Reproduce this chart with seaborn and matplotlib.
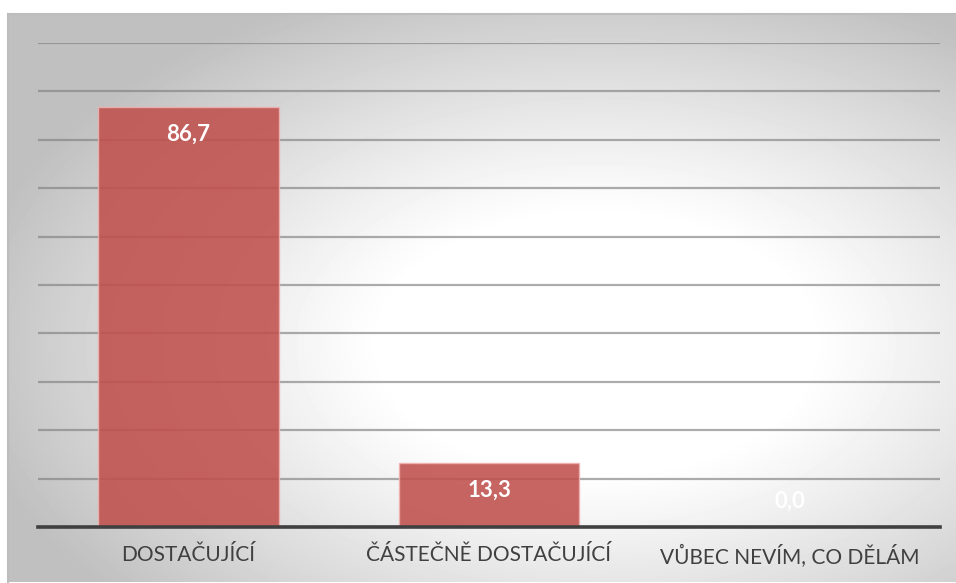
import numpy as np
import pandas as pd
import seaborn as sns
import matplotlib.pyplot as plt


categories = ["DOSTAČUJÍCÍ", "ČÁSTEČNĚ DOSTAČUJÍCÍ", "VŮBEC NEVÍM, CO DĚLÁM"]
values = [86.7, 13.3, 0.0]
y_ticks = list(range(0, 101, 10))


def gradient_background(fig):
    # frame with a radial (elliptic) grey-to-white fill, like the office chart area
    bg = fig.add_axes([8 / 956, 1 / 583, 948 / 956, 568 / 583])
    h, w = 568, 948
    yy, xx = np.mgrid[0:h, 0:w]
    u = (xx - 0.62 * w) / (w / 2)
    v = (yy - 0.58 * h) / (h / 2)
    r = np.sqrt(u ** 2 + v ** 2)
    shade = 1 - 0.25 * np.clip((r - 0.45) / 0.9, 0, 1) ** 1.1
    bg.imshow(shade, cmap="gray", vmin=0, vmax=1, aspect="auto",
              interpolation="bilinear")
    bg.set_xticks([])
    bg.set_yticks([])
    for side in ["right", "bottom"]:
        bg.spines[side].set_visible(False)
    for side in ["top", "left"]:
        bg.spines[side].set_color("#bdbdbd")
        bg.spines[side].set_linewidth(1.5)
    bg.set_zorder(0)


def main():
    sns.set_style("white")
    plt.rcParams["font.family"] = ["Lato", "DejaVu Sans"]

    fig = plt.figure(figsize=(9.56, 5.83), dpi=100, facecolor="white")
    gradient_background(fig)

    ax = fig.add_axes([38 / 956, 56 / 583, 902 / 956, 484 / 583])
    ax.set_zorder(1)
    ax.patch.set_alpha(0)

    df = pd.DataFrame({"kategorie": categories, "hodnota": values})
    sns.barplot(data=df, x="kategorie", y="hodnota", color="#C0504D",
                alpha=0.88, width=0.6, edgecolor="#eeb3b1", linewidth=1,
                saturation=1, ax=ax, zorder=3)

    ax.set_ylim(0, 100)
    ax.set_xlim(-0.5, 2.5)
    ax.set_yticks(y_ticks)
    ax.yaxis.grid(True, color="#808080", alpha=0.65, linewidth=1.6)
    ax.set_axisbelow(True)
    ax.tick_params(axis="y", left=False, labelleft=False)
    ax.tick_params(axis="x", length=0, pad=13, labelsize=15,
                   labelcolor="#404040")
    ax.set_xlabel("")
    ax.set_ylabel("")
    for side in ["top", "left", "right"]:
        ax.spines[side].set_visible(False)
    ax.spines["bottom"].set_color("#404040")
    ax.spines["bottom"].set_linewidth(2.6)
    ax.spines["bottom"].set_zorder(5)

    # data labels, inside end of each bar
    for i, v in enumerate(values):
        off = -19.5 if v > 0 else 18.5
        ax.annotate(f"{v:.1f}".replace(".", ","), xy=(i, v), xytext=(0, off),
                    textcoords="offset points", ha="center", va="center",
                    color="white", fontsize=16, fontweight="bold", zorder=6)

    fig.savefig("out.png", dpi=100, facecolor="white")
    plt.close("all")


if __name__ == "__main__":
    main()
